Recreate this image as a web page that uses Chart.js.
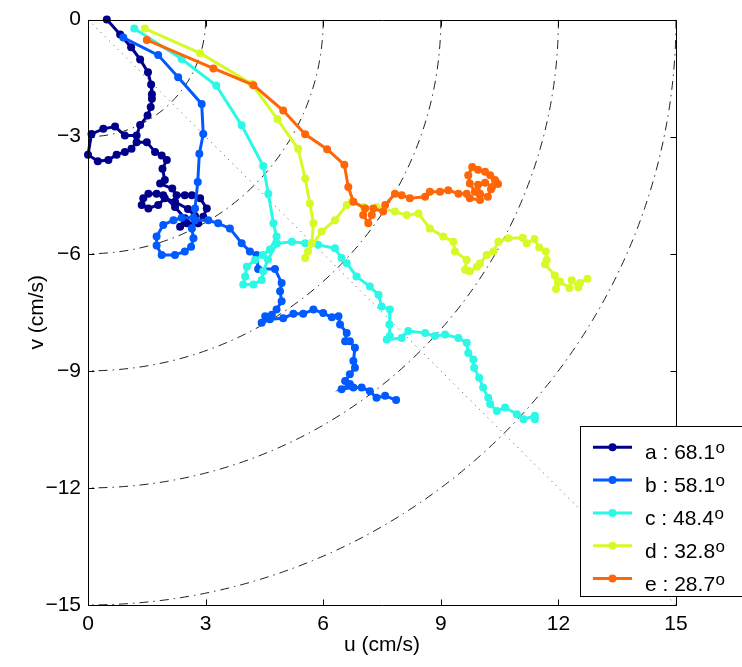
<!DOCTYPE html>
<html>
<head>
<meta charset="utf-8">
<script src="https://cdn.jsdelivr.net/npm/chart.js@4.4.1/dist/chart.umd.min.js"></script>
<style>
  html, body { margin: 0; padding: 0; background: #fff; }
  canvas { display: block; }
</style>
</head>
<body>
<canvas id="c" width="742" height="667"></canvas>
<script>
// ---- data (u, v in cm/s) ----
const seriesNames  = ['a', 'b', 'c', 'd', 'e'];
const seriesAngles = ['68.1', '58.1', '48.4', '32.8', '28.7'];
const seriesColors = ['#00008C', '#005AFF', '#2CF8E6', '#D6FA28', '#FF6608'];

const aU = [0.48,0.82,1.10,1.33,1.53,1.61,1.63,1.63,1.60,1.52,1.33,1.24,0.94,0.69,0.39,0.09,0.00,0.25,0.52,0.73,0.94,1.11,1.24,1.50,1.71,1.88,2.01,1.90,1.96,1.84,2.15,2.26,2.47,2.65,2.86,3.03,2.94,2.81,2.52,2.35,2.47,2.22,1.92,1.75,1.54,1.41,1.37,1.54,1.79,1.96,2.22,2.55,2.73];
const aV = [0.00,-0.38,-0.71,-1.02,-1.35,-1.66,-1.91,-2.03,-2.24,-2.46,-2.70,-2.97,-2.97,-2.74,-2.80,-2.93,-3.46,-3.63,-3.60,-3.46,-3.39,-3.31,-3.14,-3.14,-3.39,-3.48,-3.60,-3.82,-4.11,-4.20,-4.33,-4.50,-4.50,-4.50,-4.58,-4.84,-5.05,-5.22,-5.22,-5.31,-5.09,-4.80,-4.50,-4.46,-4.46,-4.58,-4.75,-4.84,-4.75,-4.58,-4.67,-4.85,-5.03];

const bU = [0.90,1.79,2.30,2.90,2.94,2.84,2.80,2.73,2.69,2.39,2.18,1.92,1.75,1.75,1.88,2.22,2.47,2.63,2.69,2.65,2.73,3.07,3.32,3.62,3.92,4.13,4.30,4.34,4.77,4.94,4.90,4.94,4.81,4.69,4.52,4.43,4.64,4.98,5.24,5.49,5.75,6.00,6.22,6.39,6.43,6.60,6.56,6.68,6.81,6.77,6.81,6.68,6.56,6.68,6.47,6.77,6.98,7.19,7.36,7.58,7.86];
const bV = [-0.46,-0.91,-1.48,-2.16,-2.93,-3.44,-4.16,-4.84,-5.08,-5.08,-5.14,-5.26,-5.56,-5.79,-6.03,-6.03,-5.94,-5.82,-5.60,-5.35,-5.14,-5.14,-5.22,-5.35,-5.73,-5.94,-6.03,-6.39,-6.39,-6.75,-6.96,-7.22,-7.43,-7.56,-7.60,-7.77,-7.68,-7.65,-7.54,-7.54,-7.43,-7.52,-7.63,-7.60,-7.81,-8.03,-8.24,-8.24,-8.41,-8.75,-8.92,-9.09,-9.26,-9.34,-9.47,-9.43,-9.43,-9.52,-9.69,-9.64,-9.75];

const cU = [1.18,2.39,3.27,3.92,4.47,4.60,4.73,4.81,4.64,4.46,4.26,4.05,4.01,3.96,4.22,4.43,4.47,4.59,4.82,5.20,5.54,5.87,6.30,6.47,6.60,6.85,7.19,7.41,7.49,7.70,7.69,7.70,7.62,8.00,8.17,8.60,8.85,9.11,9.45,9.66,9.70,9.83,9.85,9.98,10.08,10.21,10.26,10.43,10.64,10.94,11.11,11.40,11.40];
const cV = [-0.23,-1.01,-1.69,-2.71,-3.75,-4.46,-5.22,-5.56,-5.89,-6.03,-6.16,-6.33,-6.58,-6.79,-6.79,-6.67,-6.45,-6.15,-5.74,-5.69,-5.73,-5.77,-5.86,-6.11,-6.24,-6.58,-6.84,-7.05,-7.35,-7.43,-7.81,-8.11,-8.20,-8.16,-7.98,-8.03,-8.11,-8.07,-8.16,-8.28,-8.54,-8.71,-8.92,-9.18,-9.43,-9.69,-9.85,-10.03,-9.94,-10.11,-10.24,-10.15,-10.24];

const dU = [1.45,2.86,4.18,4.83,5.36,5.54,5.66,5.75,5.71,5.54,5.61,5.96,6.30,6.60,6.73,7.04,7.36,7.83,8.13,8.43,8.72,9.06,9.32,9.36,9.66,9.62,9.74,9.92,10.00,10.17,10.34,10.47,10.72,11.09,11.19,11.39,11.51,11.68,11.70,11.66,11.91,11.94,12.04,12.28,12.34,12.51,12.55,12.74];
const dV = [-0.23,-0.86,-1.65,-2.55,-3.31,-4.07,-4.71,-5.22,-5.73,-6.11,-5.94,-5.43,-5.14,-4.75,-4.67,-4.80,-4.80,-4.92,-5.01,-4.97,-5.35,-5.56,-5.69,-5.94,-6.16,-6.41,-6.45,-6.33,-6.25,-6.03,-5.94,-5.69,-5.60,-5.59,-5.73,-5.62,-5.84,-5.94,-6.16,-6.27,-6.56,-6.90,-6.71,-6.88,-6.68,-6.86,-6.75,-6.64];

const eU = [1.50,3.20,4.22,4.98,5.54,6.10,6.54,6.64,6.77,7.07,7.02,7.15,7.24,7.28,7.53,7.58,7.83,8.00,8.21,8.60,8.72,8.98,9.19,9.45,9.66,9.74,10.00,9.87,9.74,9.70,9.80,9.95,10.13,10.26,10.38,10.46,10.31,10.13,9.95,10.00,10.20,10.28,10.40];
const eV = [-0.52,-1.25,-1.68,-2.33,-2.94,-3.32,-3.72,-4.29,-4.67,-4.84,-5.01,-5.22,-5.01,-4.84,-4.92,-4.75,-4.46,-4.50,-4.58,-4.54,-4.41,-4.41,-4.37,-4.46,-4.46,-4.58,-4.62,-4.41,-4.20,-3.99,-3.78,-3.85,-3.90,-3.99,-4.11,-4.21,-4.29,-4.18,-4.23,-4.46,-4.54,-4.35,-4.15];

// ---- axes / reference geometry ----
const xTicks = [0, 3, 6, 9, 12, 15];
const yTicks = [-15, -12, -9, -6, -3, 0];
const arcRadii = [3, 6, 9, 12, 15];
const diagonalEnd = [15, -15];

const allU = [aU, bU, cU, dU, eU];
const allV = [aV, bV, cV, dV, eV];

const FONT = '"Liberation Sans", Arial, Helvetica, sans-serif';

const datasets = seriesNames.map((n, i) => ({
  label: n + ' : ' + seriesAngles[i] + '\u00B0',
  data: allU[i].map((u, k) => ({ x: u, y: allV[i][k] })),
  showLine: true,
  borderColor: seriesColors[i],
  backgroundColor: seriesColors[i],
  pointBackgroundColor: seriesColors[i],
  pointBorderWidth: 0,
  pointRadius: 4,
  borderWidth: 3,
  tension: 0,
  clip: 8,
  order: seriesNames.length - i
}));

const refPlugin = {
  id: 'refGeometry',
  beforeDatasetsDraw(chart) {
    const { ctx, chartArea: ca, scales: { x, y } } = chart;
    ctx.save();
    ctx.beginPath();
    ctx.rect(ca.left, ca.top, ca.right - ca.left, ca.bottom - ca.top);
    ctx.clip();
    const cx = x.getPixelForValue(0), cy = y.getPixelForValue(0);
    ctx.strokeStyle = '#222';
    ctx.lineWidth = 1;
    ctx.setLineDash([9, 5, 1.5, 5]);
    arcRadii.forEach(r => {
      const rx = x.getPixelForValue(r) - cx;
      const ry = y.getPixelForValue(-r) - cy;
      ctx.beginPath();
      ctx.ellipse(cx, cy, rx, ry, 0, 0, Math.PI / 2);
      ctx.stroke();
    });
    ctx.strokeStyle = '#555';
    ctx.setLineDash([1, 5]);
    ctx.beginPath();
    ctx.moveTo(cx, cy);
    ctx.lineTo(x.getPixelForValue(diagonalEnd[0]), y.getPixelForValue(diagonalEnd[1]));
    ctx.stroke();
    ctx.restore();
  },
  afterDatasetsDraw(chart) {
    const { ctx, chartArea: ca, scales: { x, y } } = chart;
    ctx.save();
    ctx.strokeStyle = '#000';
    ctx.lineWidth = 1;
    ctx.setLineDash([]);
    const L = Math.round(ca.left) + 0.5, R = Math.round(ca.right) + 0.5;
    const T = Math.round(ca.top) + 0.5, B = Math.round(ca.bottom) + 0.5;
    ctx.beginPath();
    ctx.rect(L, T, R - L, B - T);
    ctx.stroke();
    const tl = 6;
    ctx.beginPath();
    xTicks.forEach(v => {
      const px = Math.round(x.getPixelForValue(v)) + 0.5;
      ctx.moveTo(px, B); ctx.lineTo(px, B - tl);
      ctx.moveTo(px, T); ctx.lineTo(px, T + tl);
    });
    yTicks.forEach(v => {
      const py = Math.round(y.getPixelForValue(v)) + 0.5;
      ctx.moveTo(L, py); ctx.lineTo(L + tl, py);
      ctx.moveTo(R, py); ctx.lineTo(R - tl, py);
    });
    ctx.stroke();
    ctx.restore();
  },
  afterDraw(chart) {
    const { ctx } = chart;
    ctx.save();
    const bx = 580.5, by = 426.5, bw = 170, bh = 170;
    ctx.fillStyle = '#fff';
    ctx.fillRect(bx, by, bw, bh);
    ctx.strokeStyle = '#000';
    ctx.lineWidth = 1;
    ctx.strokeRect(bx, by, bw, bh);
    const rowY0 = 447.3, rowStep = 32.8;
    seriesNames.forEach((n, i) => {
      const yy = rowY0 + i * rowStep;
      ctx.strokeStyle = seriesColors[i];
      ctx.lineWidth = 3;
      ctx.beginPath();
      ctx.moveTo(593, yy); ctx.lineTo(632, yy);
      ctx.stroke();
      ctx.fillStyle = seriesColors[i];
      ctx.beginPath();
      ctx.arc(612.5, yy, 4, 0, Math.PI * 2);
      ctx.fill();
      ctx.fillStyle = '#000';
      ctx.font = '21px ' + FONT;
      ctx.textBaseline = 'alphabetic';
      ctx.textAlign = 'left';
      const txt = n + ' : ' + seriesAngles[i];
      const base = yy + 12;
      ctx.fillText(txt, 645, base);
      const w = ctx.measureText(txt).width;
      ctx.font = '17px ' + FONT;
      ctx.fillText('o', 645 + w + 0.5, base - 6);
    });
    ctx.restore();
  }
};

const tickFont = { family: FONT, size: 21 };

new Chart(document.getElementById('c'), {
  type: 'scatter',
  data: { datasets },
  options: {
    responsive: false,
    animation: false,
    devicePixelRatio: 1,
    layout: { padding: { top: 17, right: 66, left: 0, bottom: 0 } },
    plugins: { legend: { display: false }, tooltip: { enabled: false } },
    scales: {
      x: {
        type: 'linear', min: 0, max: 15,
        afterBuildTicks: s => { s.ticks = xTicks.map(v => ({ value: v })); },
        ticks: { padding: 7, color: '#000', font: tickFont, maxRotation: 0,
                 callback: v => String(v).replace('-', '\u2212') },
        grid: { display: false, drawTicks: false },
        border: { display: false },
        title: { display: true, text: 'u (cm/s)', color: '#000', font: tickFont, padding: { top: 0, bottom: 9 } },
        afterFit: s => { s.height = 62; }
      },
      y: {
        type: 'linear', min: -15, max: 0,
        afterBuildTicks: s => { s.ticks = yTicks.map(v => ({ value: v })); },
        ticks: { padding: 7, color: '#000', font: tickFont,
                 callback: v => String(v).replace('-', '\u2212') },
        grid: { display: false, drawTicks: false },
        border: { display: false },
        title: { display: true, text: 'v (cm/s)', color: '#000', font: tickFont, padding: { top: 25, bottom: 0 } },
        afterFit: s => { s.width = 88; }
      }
    }
  },
  plugins: [refPlugin]
});
</script>
</body>
</html>
